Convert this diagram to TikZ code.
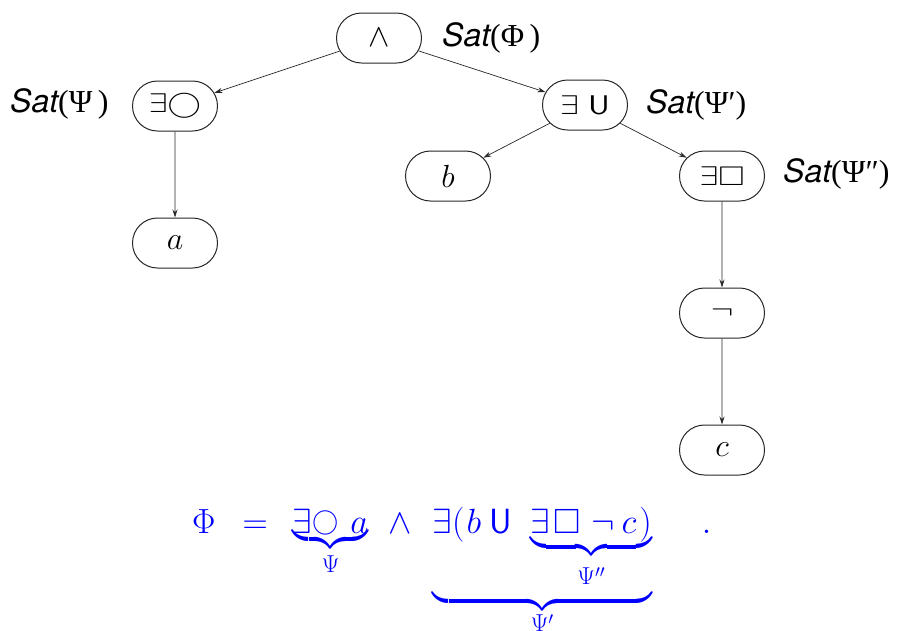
\RequirePackage{fix-cm}
\documentclass[tikz,border=0pt]{standalone}
\usepackage{amssymb}
\usepackage{fontspec}
\newfontfamily\helv{TeX Gyre Heros}
\newfontfamily\lserif{Liberation Serif}
\usetikzlibrary{shapes.misc,arrows.meta}
\definecolor{fblue}{RGB}{0,0,255}
\newcommand{\wop}[1]{\scalebox{1.25}[1]{\fontsize{27}{32}\selectfont$#1$}}
\newcommand{\satt}[1]{{\helv\itshape Sat}{\lserif(#1)}}
\newcommand{\smallcirc}{\mathord{\raisebox{4pt}{\scalebox{0.75}{$\bigcirc$}}}}
\begin{document}
\begin{tikzpicture}[x=1pt,y=-1pt,
  tnode/.style={rounded rectangle, draw=black!85, line width=1pt, minimum width=85pt, minimum height=50pt, inner sep=0pt, font=\fontsize{32}{36}\selectfont},
  edge/.style={draw=black!85, line width=0.7pt, -{Stealth[length=8pt,width=5pt]}},
  satlbl/.style={anchor=west, inner sep=0pt, font=\fontsize{32}{36}\selectfont}
]
\useasboundingbox (0,0) rectangle (900,630);
\node[tnode] (and) at (379,38) {$\wedge$};
\node[tnode] (ex) at (175,106) {\wop{\exists{\bigcirc}}};
\node[tnode] (eu) at (585,105) {\wop{\exists\;\mathsf{U}}};
\node[tnode] (b) at (448,176) {$b$};
\node[tnode] (eg) at (722,176) {\wop{\exists\Box}};
\node[tnode] (a) at (175,243) {$a$};
\node[tnode] (neg) at (722,313) {\wop{\neg}};
\node[tnode] (c) at (722,450) {$c$};
\draw[edge] (and) -- (ex);
\draw[edge] (and) -- (eu);
\draw[edge] (ex) -- (a);
\draw[edge] (eu) -- (b);
\draw[edge] (eu) -- (eg);
\draw[edge] (eg) -- (neg);
\draw[edge] (neg) -- (c);
\node[satlbl] (s1) at (442,38) {\satt{Φ\,}};
\node[satlbl] (s2) at (10,104) {\satt{Ψ\,}};
\node[satlbl] (s3) at (646,105) {\satt{Ψ′}};
\node[satlbl] (s4) at (783,174) {\satt{Ψ″}};
\node[anchor=base west, inner sep=0pt, text=fblue, font=\fontsize{35}{40}\selectfont] (f) at (192,533)
  {$\Phi\hspace{27pt}{=}\hspace{25pt}{\underbrace{\exists\smallcirc\hspace{12pt}a}_{\rule{0pt}{22pt}\Psi}}\hspace{20pt}{\wedge}\hspace{21pt}{\underbrace{\exists(\hspace{2pt}b\hspace{8pt}\mathsf{U}\hspace{19pt}{\underbrace{\exists\hspace{3pt}\Box\hspace{11pt}\neg\hspace{7pt}c\hspace{3pt})}_{\rule{0pt}{27pt}\Psi''\rule[-8pt]{0pt}{1pt}}}}_{\rule{0pt}{19pt}\Psi'}}\hspace{50pt}.$};
\end{tikzpicture}
\end{document}
